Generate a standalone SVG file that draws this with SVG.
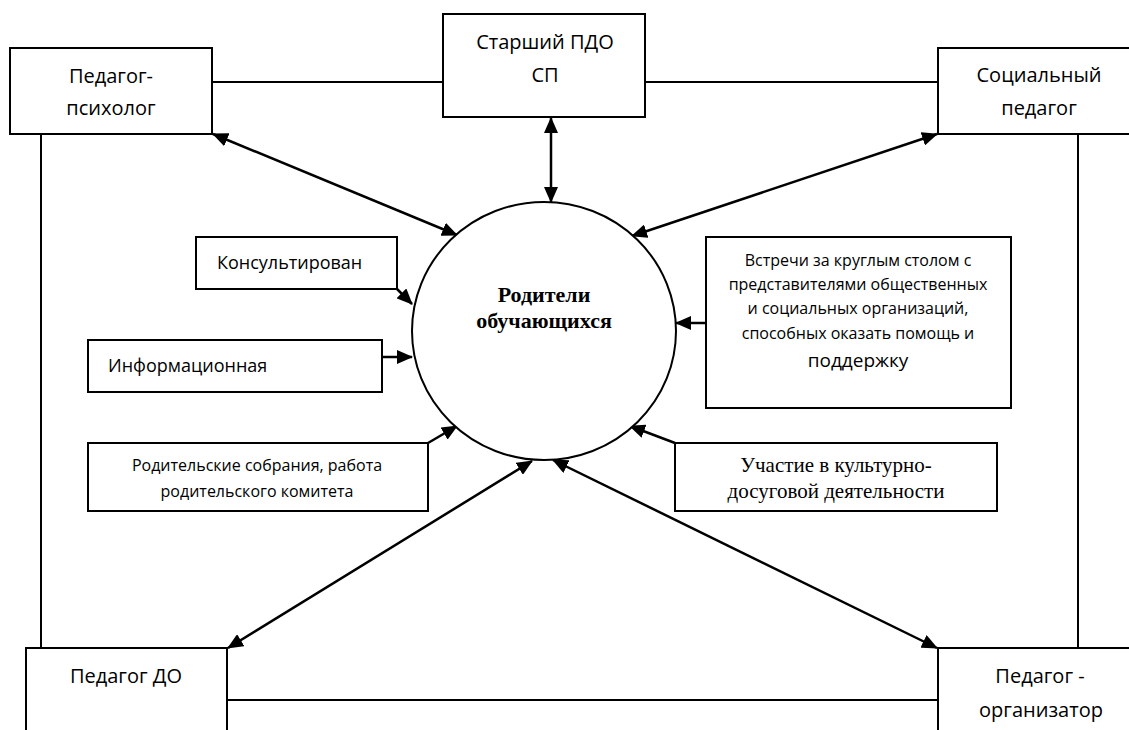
<svg xmlns="http://www.w3.org/2000/svg" width="1129" height="730" viewBox="0 0 1129 730">
<defs>
<marker id="ah" markerUnits="userSpaceOnUse" markerWidth="16" markerHeight="14" refX="15" refY="7" orient="auto-start-reverse">
<path d="M0,0 L16,7 L0,14 z" fill="#000"/>
</marker>
<style>
.box{fill:#fff;stroke:#000;stroke-width:2}
.ln{fill:none;stroke:#000;stroke-width:2}
.ar{fill:none;stroke:#000;stroke-width:2.5;marker-end:url(#ah)}
.ar2{fill:none;stroke:#000;stroke-width:2.5;marker-end:url(#ah);marker-start:url(#ah)}
.t{font-family:"Open Sans","Noto Sans",sans-serif;fill:#000}
.s{font-family:"Liberation Serif","Times New Roman",serif;fill:#000}
</style>
</defs>
<rect width="1129" height="730" fill="#fff"/>
<g id="connectors">
<line class="ln" x1="212" y1="82" x2="443" y2="82"/>
<line class="ln" x1="645" y1="82" x2="938" y2="82"/>
<line class="ln" x1="41" y1="134" x2="41" y2="648"/>
<line class="ln" x1="1078" y1="134" x2="1078" y2="648"/>
<line class="ln" x1="227" y1="700" x2="938" y2="700"/>
<line class="ar2" x1="551" y1="118" x2="551" y2="202"/>
<line class="ar2" x1="213" y1="134" x2="457" y2="235"/>
<line class="ar2" x1="937" y1="134" x2="632" y2="236"/>
<line class="ar2" x1="228" y1="648" x2="532" y2="461"/>
<line class="ar2" x1="937" y1="648" x2="553" y2="460"/>
<line class="ar" x1="397" y1="289" x2="412" y2="304"/>
<line class="ar" x1="382" y1="357" x2="412" y2="357"/>
<line class="ar" x1="428" y1="443" x2="457" y2="426"/>
<line class="ar" x1="706" y1="323" x2="676" y2="323"/>
<line class="ar" x1="675" y1="443" x2="630" y2="426"/>
</g>
<g id="parents">
<ellipse cx="544" cy="331" rx="132" ry="129" fill="#fff" stroke="#000" stroke-width="2"/>
<text class="s" x="544" y="302" font-size="22" font-weight="bold" text-anchor="middle">Родители</text>
<text class="s" x="544" y="328" font-size="22" font-weight="bold" text-anchor="middle">обучающихся</text>
</g>
<g id="psychologist">
<rect class="box" x="10" y="48" width="202" height="86"/>
<text class="t" x="111" y="83" font-size="20" text-anchor="middle">Педагог-</text>
<text class="t" x="111" y="115" font-size="20" text-anchor="middle">психолог</text>
</g>
<g id="senior">
<rect class="box" x="443" y="14" width="202" height="103"/>
<text class="t" x="545" y="49" font-size="20" text-anchor="middle">Старший ПДО</text>
<text class="t" x="545" y="82" font-size="20" text-anchor="middle">СП</text>
</g>
<g id="social">
<rect class="box" x="938" y="48" width="200" height="86"/>
<text class="t" x="1039" y="82" font-size="20" text-anchor="middle">Социальный</text>
<text class="t" x="1039" y="115" font-size="20" text-anchor="middle">педагог</text>
</g>
<g id="consult">
<rect class="box" x="196" y="237" width="201" height="52"/>
<text class="t" x="217" y="269" font-size="18">Консультирован</text>
</g>
<g id="info">
<rect class="box" x="88" y="340" width="294" height="52"/>
<text class="t" x="108" y="372" font-size="18">Информационная</text>
</g>
<g id="meetings">
<rect class="box" x="88" y="443" width="340" height="68"/>
<text class="t" x="257" y="471" font-size="16" text-anchor="middle">Родительские собрания, работа</text>
<text class="t" x="257" y="497" font-size="16" text-anchor="middle">родительского комитета</text>
</g>
<g id="roundtable">
<rect class="box" x="706" y="237" width="305" height="171"/>
<text class="t" x="858" y="266" font-size="16" text-anchor="middle">Встречи за круглым столом с</text>
<text class="t" x="858" y="290" font-size="16" text-anchor="middle">представителями общественных</text>
<text class="t" x="858" y="314" font-size="16" text-anchor="middle">и социальных организаций,</text>
<text class="t" x="858" y="339" font-size="16" text-anchor="middle">способных оказать помощь и</text>
<text class="t" x="858" y="367" font-size="19" text-anchor="middle">поддержку</text>
</g>
<g id="culture">
<rect class="box" x="675" y="443" width="322" height="68"/>
<text class="s" x="836" y="472" font-size="21" text-anchor="middle">Участие в культурно-</text>
<text class="s" x="836" y="498" font-size="21" text-anchor="middle">досуговой деятельности</text>
</g>
<g id="teacher-do">
<rect class="box" x="26" y="648" width="201" height="100"/>
<text class="t" x="126" y="683" font-size="20" text-anchor="middle">Педагог ДО</text>
</g>
<g id="organizer">
<rect class="box" x="938" y="648" width="200" height="100"/>
<text class="t" x="1040" y="683" font-size="20" text-anchor="middle">Педагог -</text>
<text class="t" x="1041" y="717" font-size="20" text-anchor="middle">организатор</text>
</g>
</svg>
